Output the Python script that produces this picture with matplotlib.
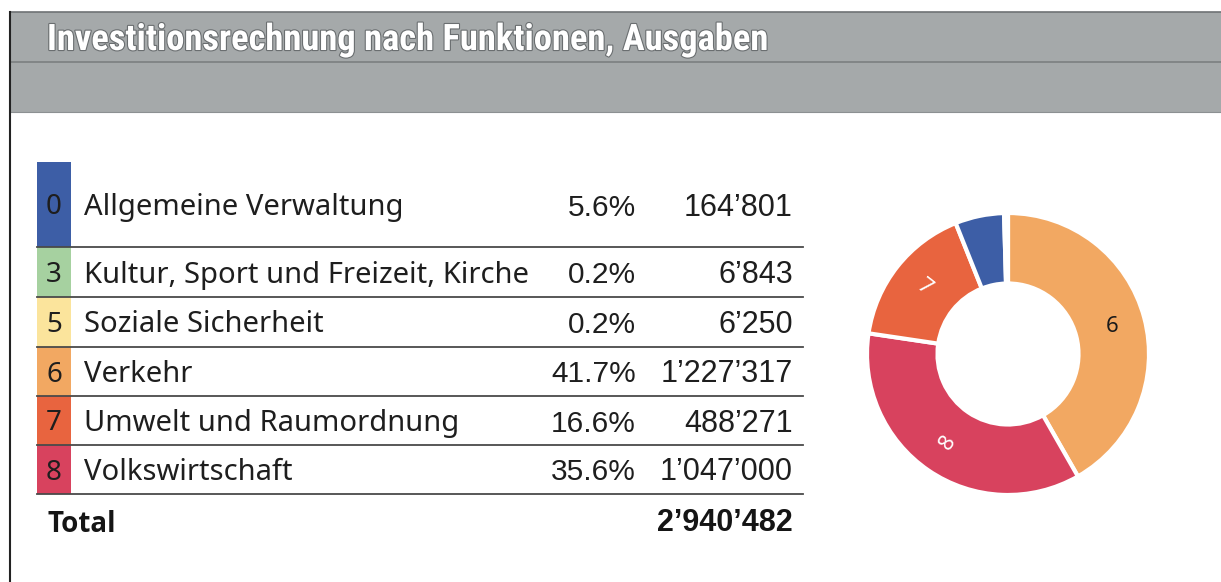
import matplotlib
matplotlib.use("Agg")
import matplotlib.pyplot as plt
from matplotlib import font_manager
import matplotlib.patheffects as pe
import numpy as np

# ---------------- data ----------------
codes = ['0', '3', '5', '6', '7', '8']
labels = ['Allgemeine Verwaltung', 'Kultur, Sport und Freizeit, Kirche',
          'Soziale Sicherheit', 'Verkehr', 'Umwelt und Raumordnung', 'Volkswirtschaft']
shares = ['5.6%', '0.2%', '0.2%', '41.7%', '16.6%', '35.6%']
amounts = [164801, 6843, 6250, 1227317, 488271, 1047000]
total = 2940482
title = 'Investitionsrechnung nach Funktionen, Ausgaben'
total_label = 'Total'

colors = {'0': '#3d5ea6', '3': '#a6d1a0', '5': '#fbe49c', '6': '#f2a862',
          '7': '#e8643f', '8': '#d8425e'}
pie_order = ['6', '8', '7', '0', '3', '5']
pie_label_rot = {'6': 0, '8': 56, '7': -38}
pie_label_col = {'6': '#1a1a1a', '8': 'white', '7': 'white'}

def fmt(v):
    return f"{v:,}".replace(",", "\u2019")

avail = {f.name for f in font_manager.fontManager.ttflist}
def pick(*names):
    for n in names:
        if n in avail:
            return n
    return 'DejaVu Sans'

title_font = pick('Liberation Sans Narrow', 'Roboto Condensed', 'Open Sans Condensed', 'Roboto')
label_font = pick('Noto Sans', 'Open Sans', 'DejaVu Sans')
bold_font = pick('Open Sans', 'Lato', 'DejaVu Sans')
num_font = pick('Liberation Sans', 'Arial', 'DejaVu Sans')

W, H = 1221, 582
fig = plt.figure(figsize=(W / 100, H / 100), dpi=100)
fig.patch.set_facecolor('white')
ax = fig.add_axes([0, 0, 1, 1])
ax.set_xlim(0, W)
ax.set_ylim(H, 0)
ax.axis('off')

# ---------------- header ----------------
ax.add_patch(plt.Rectangle((10, 12), W - 10, 100, facecolor='#a5a9aa', edgecolor='none'))
ax.plot([10, W], [12, 12], color='#6e7274', lw=1.2)
ax.plot([10, W], [62, 62], color='#7b7f81', lw=1.2)
ax.plot([10, W], [112, 112], color='#8c9092', lw=0.8)
ax.plot([10, 10], [12, H], color='#222222', lw=1.5)
ax.text(47, 40, title, color='white', fontsize=26.3, fontweight='bold', family=title_font,
        va='center', ha='left',
        path_effects=[pe.withStroke(linewidth=1.6, foreground='#6a6e70')])

# ---------------- table ----------------
row_edges = [162, 247, 297, 347, 396, 445, 494]
x0, xc, x1 = 37, 71, 803
for i, c in enumerate(codes):
    top, bot = row_edges[i], row_edges[i + 1]
    mid = (top + bot) / 2 + 3
    ax.add_patch(plt.Rectangle((x0, top), xc - x0, bot - top, facecolor=colors[c], edgecolor='none'))
    ax.plot([x0, x1], [bot, bot], color='#4a4a4a', lw=1.3)
    ax.text((x0 + xc) / 2, mid, c, fontsize=20, family=label_font, color='#1e1e1e',
            ha='center', va='center')
    ax.text(84, mid, labels[i], fontsize=21, family=label_font, color='#1e1e1e',
            ha='left', va='center')
    ax.text(636, mid, shares[i], fontsize=21.5, family=num_font, color='#1e1e1e',
            ha='right', va='center')
    ax.text(793, mid, fmt(amounts[i]), fontsize=22, family=num_font, color='#1e1e1e',
            ha='right', va='center')

ax.text(47, 524, total_label, fontsize=20, family=bold_font, fontweight='bold',
        color='#151515', ha='left', va='center')
ax.text(793, 523, fmt(total), fontsize=22, family=num_font, fontweight='bold',
        color='#151515', ha='right', va='center')

# ---------------- donut ----------------
cx, cy, r = 1008, 354, 141
pax = fig.add_axes([(cx - r) / W, (H - cy - r) / H, 2 * r / W, 2 * r / H])
vals = [amounts[codes.index(c)] for c in pie_order]
wedges, _ = pax.pie(vals, colors=[colors[c] for c in pie_order], startangle=90,
                    counterclock=False, radius=1,
                    wedgeprops=dict(width=0.5, edgecolor='white', linewidth=3))
pax.set_xlim(-1.0, 1.0)
pax.set_ylim(-1.0, 1.0)
pax.set_aspect('equal')
pax.axis('off')
for w, c in zip(wedges, pie_order):
    if c in pie_label_rot:
        ang = np.deg2rad((w.theta1 + w.theta2) / 2)
        rr = 0.76
        pax.text(rr * np.cos(ang), rr * np.sin(ang), c, fontsize=16, family=label_font,
                 color=pie_label_col[c], rotation=pie_label_rot[c],
                 ha='center', va='center')

fig.savefig('out.png', dpi=100, facecolor='white')
